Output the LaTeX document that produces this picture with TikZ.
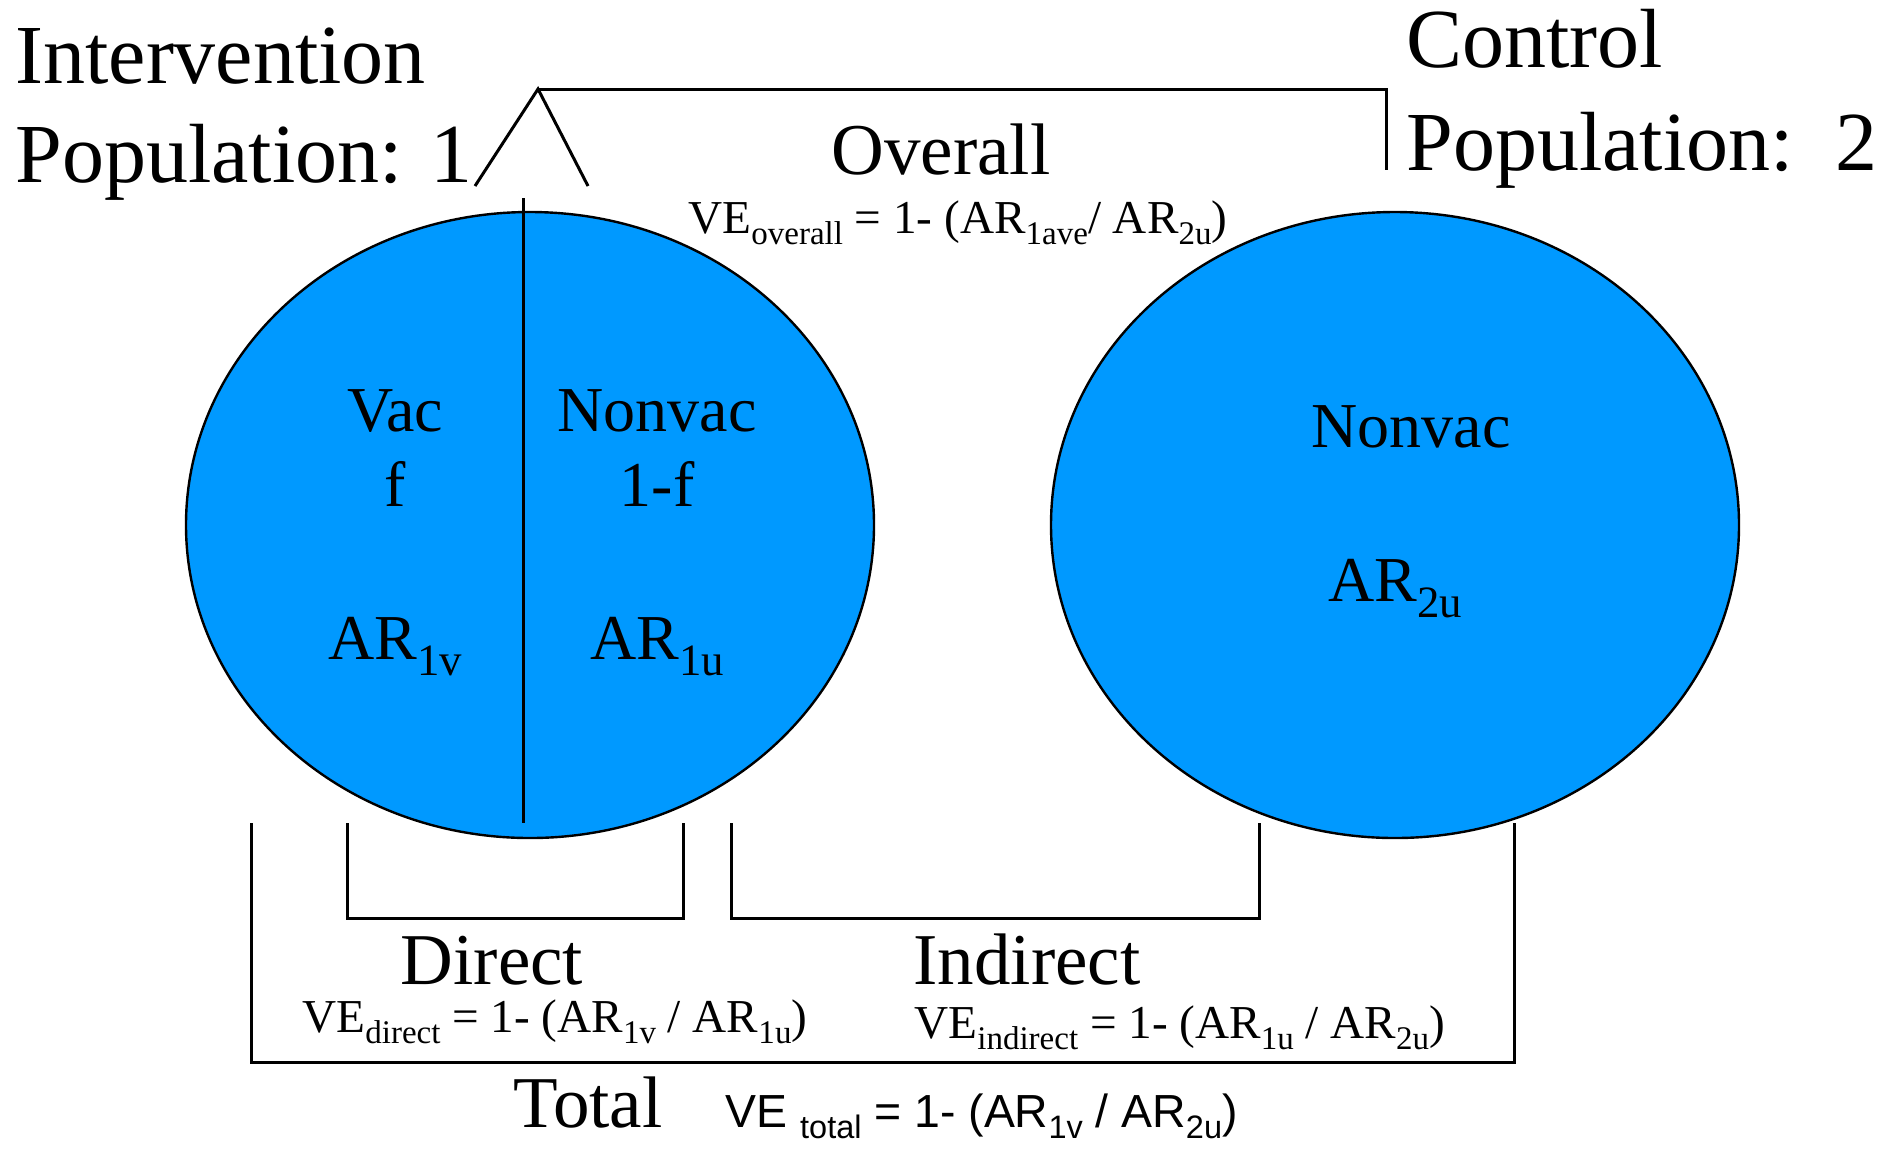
\documentclass[tikz,border=0pt]{standalone}
\usepackage{fontspec}
\setmainfont{Liberation Serif}
\setsansfont{Liberation Sans}
\usetikzlibrary{shapes.geometric}

\definecolor{popblue}{RGB}{0,153,255}

% lowered, smaller index text
\newcommand{\lowr}[1]{\raisebox{-0.25em}{\scalebox{0.7}{#1}}}

\tikzset{
  pop/.style={ellipse, draw=black, line width=1.2pt, fill=popblue,
    minimum width=344pt, minimum height=313pt, inner sep=0pt, outer sep=0pt},
  brack/.style={line width=1.5pt},
  lbl/.style={inner sep=0pt, anchor=base},
  title/.style={lbl, anchor=base west, font=\fontsize{42}{50}\selectfont},
  effect/.style={lbl, font=\fontsize{36.5}{44}\selectfont},
  inside/.style={lbl, font=\fontsize{32}{38}\selectfont},
  formula/.style={lbl, anchor=base west, font=\fontsize{23.6}{28}\selectfont},
}

\begin{document}
\begin{tikzpicture}[x=0.5pt, y=-0.5pt]
\useasboundingbox (0,0) rectangle (1904,1148);

% the two populations
\node[pop] (intv) at (530,525) {};
\node[pop] (ctrl) at (1395,525) {};

% vaccinated / nonvaccinated split
\coordinate (splittop) at (523,198);
\coordinate (splitbot) at (523,823);
\draw[brack] (splittop) -- (splitbot);

% population titles
\node[title] (intvA) at (15,83) {Intervention};
\node[title] (intvB) at (15,182) {Population: 1};
\node[title] (ctrlA) at (1406,67) {Control};
\node[title] (ctrlB) at (1406,170) {Population:\ \ 2};

% overall bracket
\coordinate (ovL) at (475,186);
\coordinate (ovTop) at (538,89);
\coordinate (ovR) at (588,186);
\coordinate (ovEnd) at (1386,170);
\draw[brack] (ovL) -- (ovTop) -- (ovR);
\draw[brack] (ovTop) -| (ovEnd);
\node[effect] (overall) at (941,174) {Overall};
\node[formula] (veoverall) at (688,233)
  {VE\lowr{overall} = 1- (AR\lowr{1ave}/ AR\lowr{2u})};

% texts in the populations
\node[inside] (vac) at (395,431) {Vac};
\node[inside] (vacf) at (395,506) {f};
\node[inside] (ar1v) at (395,659) {AR\lowr{1v}};
\node[inside] (nonvac) at (657,431) {Nonvac};
\node[inside] (nonvacf) at (657,506) {1-f};
\node[inside] (ar1u) at (657,659) {AR\lowr{1u}};
\node[inside] (ctrlnonvac) at (1411,447) {Nonvac};
\node[inside] (ar2u) at (1395,601) {AR\lowr{2u}};

% direct bracket
\coordinate (dirL) at (347,823);
\coordinate (dirR) at (683,823);
\draw[brack] (dirL) |- (683,918) -- (dirR);
\node[effect] (direct) at (492,984) {Direct};
\node[formula] (vedirect) at (302,1032)
  {VE\lowr{direct} = 1- (AR\lowr{1v} / AR\lowr{1u})};

% indirect bracket
\coordinate (indL) at (731,823);
\coordinate (indR) at (1259,823);
\draw[brack] (indL) |- (1259,918) -- (indR);
\node[effect] (indirect) at (1027,984) {Indirect};
\node[formula] (veindirect) at (914,1038)
  {VE\lowr{indirect} = 1- (AR\lowr{1u} / AR\lowr{2u})};

% total bracket
\coordinate (totL) at (251,823);
\coordinate (totR) at (1514,823);
\draw[brack] (totL) |- (1514,1062) -- (totR);
\node[effect] (total) at (588,1127) {Total};
\node[formula, font=\sffamily\fontsize{23.2}{28}\selectfont] (vetotal) at (725,1127)
  {VE \lowr{total} = 1- (AR\lowr{1v} / AR\lowr{2u})};

\end{tikzpicture}
\end{document}
